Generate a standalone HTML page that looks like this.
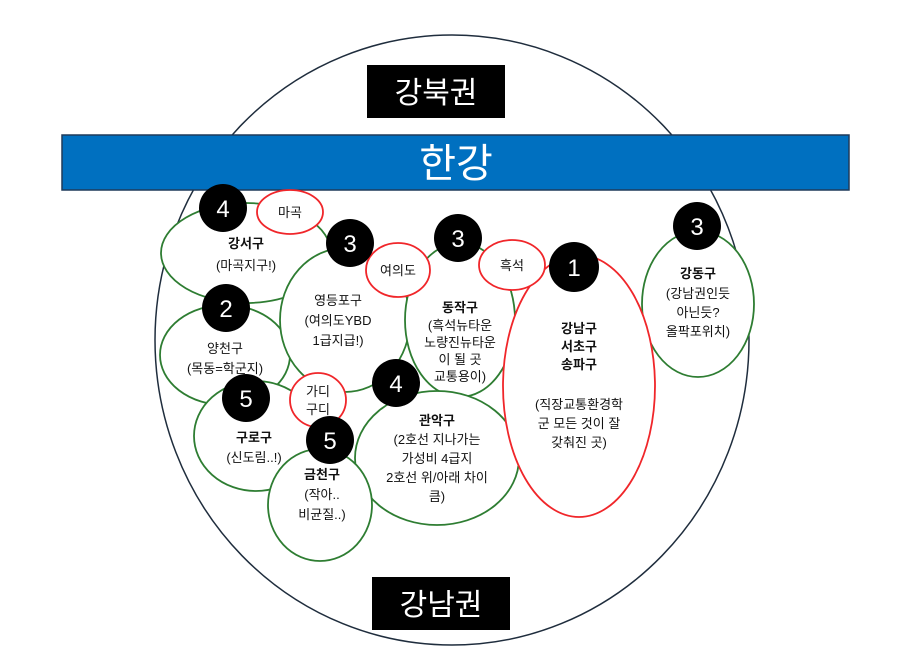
<!DOCTYPE html>
<html><head><meta charset="utf-8"><style>
html,body{margin:0;padding:0;background:#fff;}
svg{display:block;}
text{font-family:"Liberation Sans","Noto Sans CJK KR",sans-serif;font-size:13px;fill:#111;text-anchor:middle;}
.b{font-weight:bold;}
.n{fill:#fff;font-size:24px;}
</style></head><body>
<svg width="904" height="656" viewBox="0 0 904 656" xmlns="http://www.w3.org/2000/svg">
<ellipse cx="452" cy="340" rx="297" ry="305" fill="#fff" stroke="#1f2d3d" stroke-width="1.5"/>
<rect x="367" y="65" width="138" height="53" fill="#000"/>
<text x="436" y="103" style="fill:#fff;font-size:30px">강북권</text>
<rect x="62" y="135" width="787" height="55" fill="#0070c0" stroke="#1f3a5a" stroke-width="1.5"/>
<text x="456" y="177" style="fill:#fff;font-size:40px">한강</text>
<rect x="372" y="577" width="138" height="53" fill="#000"/>
<text x="441" y="615" style="fill:#fff;font-size:30px">강남권</text>
<g fill="#fff" stroke="#2e7d32" stroke-width="1.8">
<ellipse cx="246" cy="253" rx="85" ry="50"/>
<ellipse cx="225" cy="355" rx="65" ry="50"/>
<ellipse cx="345" cy="320" rx="65" ry="72"/>
<ellipse cx="460" cy="320" rx="55" ry="77"/>
<ellipse cx="437" cy="458" rx="82" ry="67"/>
<ellipse cx="256" cy="436" rx="62" ry="55"/>
<ellipse cx="320" cy="505" rx="52" ry="56"/>
<ellipse cx="698" cy="304" rx="56" ry="73"/>
</g>
<g fill="#fff" stroke="#f0262a" stroke-width="1.8">
<ellipse cx="579" cy="386" rx="76" ry="131"/>
<ellipse cx="290" cy="212" rx="33" ry="22"/>
<ellipse cx="398" cy="270" rx="32" ry="27"/>
<ellipse cx="512" cy="265" rx="33" ry="25"/>
<ellipse cx="318" cy="400" rx="28" ry="27"/>
</g>
<g fill="#000">
<circle cx="223" cy="208" r="24"/><circle cx="350" cy="243" r="24"/>
<circle cx="458" cy="238" r="24"/><circle cx="574" cy="267" r="25"/>
<circle cx="697" cy="226" r="24"/><circle cx="226" cy="308" r="24"/>
<circle cx="396" cy="383" r="24"/><circle cx="246" cy="398" r="24"/>
<circle cx="330" cy="440" r="24"/>
</g>
<g class="n">
<text class="n" x="223" y="217">4</text><text class="n" x="350" y="252">3</text>
<text class="n" x="458" y="247">3</text><text class="n" x="574" y="276">1</text>
<text class="n" x="697" y="235">3</text><text class="n" x="226" y="317">2</text>
<text class="n" x="396" y="392">4</text><text class="n" x="246" y="407">5</text>
<text class="n" x="330" y="449">5</text>
</g>
<text x="290" y="217">마곡</text>
<text x="398" y="275">여의도</text>
<text x="512" y="270">흑석</text>
<text x="318" y="396">가디</text><text x="318" y="414">구디</text>
<text class="b" x="246" y="248">강서구</text><text x="246" y="270">(마곡지구!)</text>
<text x="225" y="353">양천구</text><text x="225" y="373">(목동=학군지)</text>
<text x="338" y="305">영등포구</text><text x="338" y="325">(여의도YBD</text><text x="338" y="345">1급지급!)</text>
<text class="b" x="460" y="312">동작구</text><text x="460" y="330">(흑석뉴타운</text><text x="460" y="347">노량진뉴타운</text><text x="460" y="364">이 될 곳</text><text x="460" y="381">교통용이)</text>
<text class="b" x="579" y="333">강남구</text><text class="b" x="579" y="351">서초구</text><text class="b" x="579" y="369">송파구</text>
<text x="579" y="409">(직장교통환경학</text><text x="579" y="428">군 모든 것이 잘</text><text x="579" y="447">갖춰진 곳)</text>
<text class="b" x="698" y="278">강동구</text><text x="698" y="298">(강남권인듯</text><text x="698" y="317">아닌듯?</text><text x="698" y="336">올팍포위치)</text>
<text class="b" x="437" y="425">관악구</text><text x="437" y="444">(2호선 지나가는</text><text x="437" y="463">가성비 4급지</text><text x="437" y="482">2호선 위/아래 차이</text><text x="437" y="501">큼)</text>
<text class="b" x="254" y="442">구로구</text><text x="254" y="462">(신도림..!)</text>
<text class="b" x="322" y="479">금천구</text><text x="322" y="499">(작아..</text><text x="322" y="519">비균질..)</text>
</svg>
</body></html>
